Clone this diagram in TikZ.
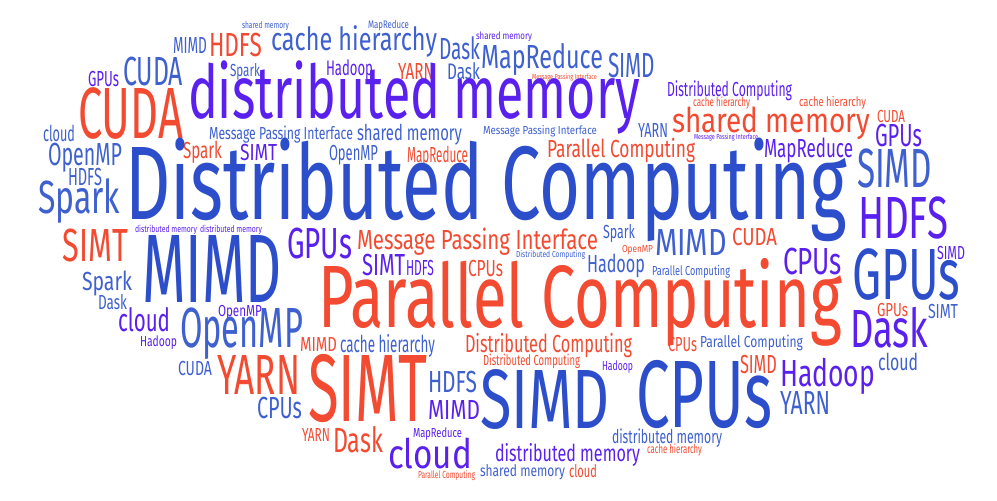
\documentclass[tikz,border=0pt]{standalone}
\usepackage{fontspec}
\setmainfont{Fira Sans}
\usepackage{graphicx}
\definecolor{wbig}{HTML}{2C4ECB}
\definecolor{wblue}{HTML}{3F60CF}
\definecolor{wpur}{HTML}{5A20EE}
\definecolor{wred}{HTML}{F24B32}
\newsavebox\wcbox
\newlength\wclen
\newcounter{wcn}
\tikzset{wordnode/.style={inner sep=0pt, outer sep=0pt, anchor=base west}}
% #1 target width, #2 cap height, #3 text
\newcommand\wcinner[3]{%
  \pgfmathsetmacro\wcfs{#2/0.689}%
  \sbox\wcbox{\fontsize{\wcfs pt}{\wcfs pt}\selectfont #3}%
  \setlength\wclen{\wd\wcbox}%
  \pgfmathsetmacro\wcxs{(#1)/\wclen}%
  \scalebox{\wcxs}[1]{\usebox\wcbox}%
}
% #1 left x, #2 baseline y, #3 right x, #4 cap height, #5 colour, #6 text
\newcommand\wcw[6]{%
  \stepcounter{wcn}%
  \node[wordnode, text=#5] (w\thewcn) at (#1,#2) {\wcinner{#3-#1}{#4}{#6}};%
}
\begin{document}
\begin{tikzpicture}[x=1pt,y=-1pt]
\fill[white] (0,0) rectangle (997,501);
\useasboundingbox (0,0) rectangle (997,501);
% top rows
\wcw{242}{28}{289}{6.5}{wblue}{shared memory}
\wcw{368}{28}{409}{7.5}{wblue}{MapReduce}
\wcw{476}{39}{532}{7}{wpur}{shared memory}
\wcw{173}{53}{207}{16}{wblue}{MIMD}
\wcw{209}{56}{262}{23}{wred}{HDFS}
\wcw{271}{50}{437}{22}{wblue}{cache hierarchy}
\wcw{439}{59}{480}{21}{wblue}{Dask}
\wcw{481}{68}{603}{23}{wblue}{MapReduce}
\wcw{608}{77}{655}{24}{wblue}{SIMD}
\wcw{88}{86}{119}{15}{wpur}{GPUs}
\wcw{123}{85}{183}{28}{wblue}{CUDA}
\wcw{230}{76}{260}{12}{wblue}{Spark}
\wcw{326}{75}{373}{14.5}{wpur}{Hadoop}
\wcw{398}{79}{434}{16}{wred}{YARN}
\wcw{447}{79}{480}{15.5}{wblue}{Dask}
\wcw{532}{79}{597}{5}{wred}{Message Passing Interface}
\wcw{78}{138}{183}{50}{wred}{CUDA}
\wcw{188}{118}{640}{51}{wpur}{distributed memory}
\wcw{667}{96}{792}{14}{wpur}{Distributed Computing}
\wcw{693}{106}{750}{8.5}{wred}{cache hierarchy}
\wcw{799}{106}{866}{9}{wred}{cache hierarchy}
\wcw{672}{132}{870}{23.5}{wred}{shared memory}
\wcw{877}{122}{905}{12}{wred}{CUDA}
\wcw{875}{146}{922}{22}{wpur}{GPUs}
\wcw{694}{139}{758}{5}{wpur}{Message Passing Interface}
\wcw{638}{137}{668}{14}{wblue}{YARN}
\wcw{483}{134}{597}{8}{wblue}{Message Passing Interface}
\wcw{357}{140}{462}{15}{wblue}{shared memory}
\wcw{209}{139}{353}{12}{wblue}{Message Passing Interface}
\wcw{43}{141}{75}{15}{wblue}{cloud}
\wcw{764}{157}{853}{18}{wpur}{MapReduce}
\wcw{547}{157}{695}{17}{wred}{Parallel Computing}
\wcw{48}{165}{122}{22}{wblue}{OpenMP}
\wcw{183}{158}{222}{16}{wred}{Spark}
\wcw{240}{160}{277}{16}{wpur}{SIMT}
\wcw{329}{160}{378}{15}{wblue}{OpenMP}
\wcw{407}{162}{468}{15}{wred}{MapReduce}
% middle
\wcw{125}{219}{847}{72}{wbig}{Distributed Computing}
\wcw{857}{187}{932}{38}{wblue}{SIMD}
\wcw{68}{185}{102}{17}{wblue}{HDFS}
\wcw{38}{213}{120}{32}{wblue}{Spark}
\wcw{135}{232}{197}{6.5}{wpur}{distributed memory}
\wcw{200}{232}{262}{6.5}{wpur}{distributed memory}
\wcw{63}{261}{128}{32}{wred}{SIMT}
\wcw{142}{302}{282}{67}{wbig}{MIMD}
\wcw{287}{258}{352}{30}{wpur}{GPUs}
\wcw{357}{249}{598}{19}{wred}{Message Passing Interface}
\wcw{362}{275}{405}{21}{wpur}{SIMT}
\wcw{406}{275}{434}{15}{wpur}{HDFS}
\wcw{468}{276}{503}{16}{wred}{CPUs}
\wcw{516}{257}{585}{6}{wblue}{Distributed Computing}
\wcw{603}{238}{635}{13}{wblue}{Spark}
\wcw{622}{252}{653}{7}{wred}{OpenMP}
\wcw{587}{272}{645}{17}{wblue}{Hadoop}
\wcw{655}{255}{727}{26}{wblue}{MIMD}
\wcw{732}{245}{777}{17}{wred}{CUDA}
\wcw{652}{275}{730}{9}{wblue}{Parallel Computing}
\wcw{858}{238}{948}{41}{wpur}{HDFS}
\wcw{783}{274}{842}{26}{wpur}{CPUs}
\wcw{852}{299}{960}{50}{wbig}{GPUs}
\wcw{937}{259}{965}{13}{wpur}{SIMD}
\wcw{318}{327}{842}{61}{wred}{Parallel Computing}
\wcw{82}{290}{132}{18}{wblue}{Spark}
\wcw{98}{309}{127}{14}{wblue}{Dask}
\wcw{118}{331}{170}{22}{wpur}{cloud}
\wcw{218}{316}{262}{11}{wpur}{OpenMP}
\wcw{180}{347}{303}{39}{wblue}{OpenMP}
\wcw{877}{316}{908}{13}{wred}{GPUs}
\wcw{928}{318}{958}{14}{wblue}{SIMT}
\wcw{850}{347}{928}{37}{wpur}{Dask}
% lower
\wcw{140}{346}{177}{10}{wpur}{Hadoop}
\wcw{178}{375}{212}{14}{wblue}{CUDA}
\wcw{300}{351}{337}{14}{wred}{MIMD}
\wcw{340}{352}{435}{16}{wblue}{cache hierarchy}
\wcw{465}{352}{632}{17}{wred}{Distributed Computing}
\wcw{483}{365}{580}{10}{wred}{Distributed Computing}
\wcw{668}{351}{697}{14}{wred}{CPUs}
\wcw{700}{347}{803}{11}{wblue}{Parallel Computing}
\wcw{217}{394}{300}{39}{wred}{YARN}
\wcw{308}{421}{427}{66}{wred}{SIMT}
\wcw{428}{392}{477}{21}{wblue}{HDFS}
\wcw{428}{419}{480}{19}{wpur}{MIMD}
\wcw{480}{428}{610}{58}{wbig}{SIMD}
\wcw{636}{427}{772}{66}{wbig}{CPUs}
\wcw{602}{370}{633}{9}{wpur}{Hadoop}
\wcw{740}{373}{777}{18}{wred}{SIMD}
\wcw{780}{386}{875}{26}{wpur}{Hadoop}
\wcw{878}{370}{918}{16}{wblue}{cloud}
\wcw{780}{414}{830}{23}{wblue}{YARN}
\wcw{257}{418}{302}{21}{wblue}{CPUs}
\wcw{302}{441}{330}{13}{wred}{YARN}
\wcw{333}{452}{383}{24}{wred}{Dask}
\wcw{413}{437}{462}{9}{wpur}{MapReduce}
\wcw{388}{468}{472}{28}{wpur}{cloud}
\wcw{418}{478}{475}{7}{wred}{Parallel Computing}
\wcw{612}{443}{722}{13}{wblue}{distributed memory}
\wcw{495}{461}{640}{16}{wpur}{distributed memory}
\wcw{647}{453}{702}{8.5}{wred}{cache hierarchy}
\wcw{480}{476}{565}{11}{wblue}{shared memory}
\wcw{569}{477}{597}{12}{wred}{cloud}
\end{tikzpicture}
\end{document}
